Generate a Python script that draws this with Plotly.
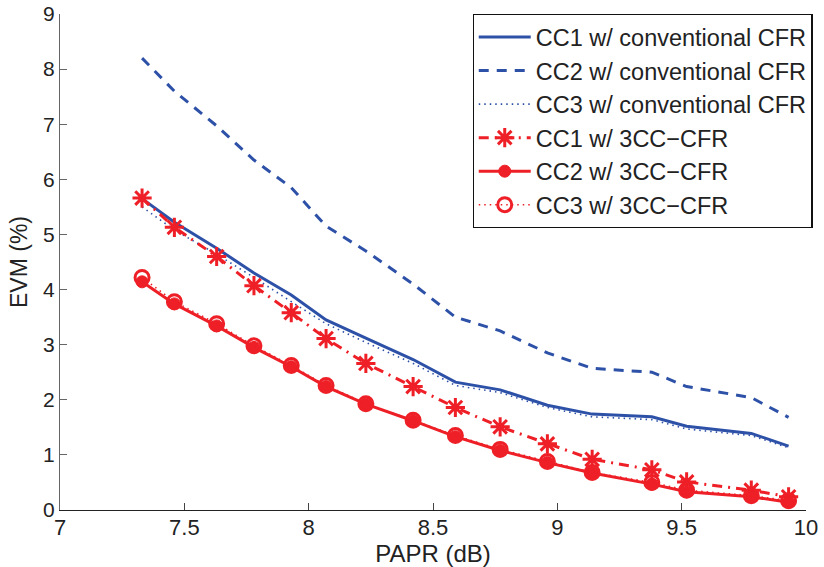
import plotly.graph_objects as go

papr = [7.33, 7.46, 7.63, 7.78, 7.93, 8.07, 8.23, 8.42, 8.59, 8.77, 8.96, 9.14, 9.38, 9.52, 9.78, 9.93]

cc1_conv = [5.65, 5.22, 4.75, 4.30, 3.90, 3.45, 3.12, 2.73, 2.32, 2.18, 1.90, 1.74, 1.69, 1.52, 1.39, 1.16]
cc2_conv = [8.20, 7.60, 6.97, 6.35, 5.85, 5.15, 4.70, 4.10, 3.50, 3.25, 2.85, 2.57, 2.50, 2.24, 2.04, 1.68]
cc3_conv = [5.50, 5.08, 4.64, 4.22, 3.78, 3.38, 3.04, 2.66, 2.26, 2.13, 1.86, 1.69, 1.64, 1.47, 1.35, 1.13]

cc1_3cc = [5.66, 5.13, 4.60, 4.07, 3.58, 3.11, 2.66, 2.24, 1.86, 1.51, 1.20, 0.92, 0.73, 0.51, 0.36, 0.24]
cc2_3cc = [4.14, 3.74, 3.34, 2.95, 2.60, 2.24, 1.92, 1.62, 1.33, 1.08, 0.86, 0.67, 0.47, 0.33, 0.24, 0.14]
cc3_3cc = [4.22, 3.78, 3.38, 2.98, 2.62, 2.26, 1.93, 1.63, 1.35, 1.10, 0.88, 0.68, 0.50, 0.36, 0.26, 0.17]

names = ["CC1 w/ conventional CFR", "CC2 w/ conventional CFR", "CC3 w/ conventional CFR",
         "CC1 w/ 3CC\u2212CFR", "CC2 w/ 3CC\u2212CFR", "CC3 w/ 3CC\u2212CFR"]

BLUE = "#2E51A8"
RED = "#EE1F26"

fig = go.Figure()
fig.add_trace(go.Scatter(x=papr, y=cc1_conv, name=names[0], mode="lines",
                         line=dict(color=BLUE, width=3)))
fig.add_trace(go.Scatter(x=papr, y=cc2_conv, name=names[1], mode="lines",
                         line=dict(color=BLUE, width=3, dash="10px,8px")))
fig.add_trace(go.Scatter(x=papr, y=cc3_conv, name=names[2], mode="lines",
                         line=dict(color=BLUE, width=1.6, dash="1.5px,4px")))
fig.add_trace(go.Scatter(x=papr, y=cc1_3cc, name=names[3], mode="lines+markers",
                         line=dict(color=RED, width=3, dash="10px,6px,2px,6px"),
                         marker=dict(symbol="asterisk-open", size=16, color=RED,
                                     line=dict(color=RED, width=3))))
fig.add_trace(go.Scatter(x=papr, y=cc2_3cc, name=names[4], mode="lines+markers",
                         line=dict(color=RED, width=3),
                         marker=dict(symbol="circle", size=12, color=RED,
                                     line=dict(color=RED, width=1))))
fig.add_trace(go.Scatter(x=papr, y=cc3_3cc, name=names[5], mode="lines+markers",
                         line=dict(color=RED, width=1.6, dash="1.5px,4px"),
                         marker=dict(symbol="circle-open", size=14, color=RED,
                                     line=dict(color=RED, width=3))))

fig.update_layout(
    width=824, height=567,
    margin=dict(l=60, r=18, t=14, b=57, autoexpand=False),
    paper_bgcolor="white", plot_bgcolor="white",
    font=dict(family="Liberation Sans, Arial, sans-serif", color="#222222"),
    showlegend=True,
    legend=dict(x=0.553, y=1.0, xanchor="left", yanchor="top",
                bgcolor="white", bordercolor="#111111", borderwidth=1.2,
                font=dict(size=23.5, family="Liberation Sans, Arial, sans-serif", color="#222222"),
                itemwidth=52, tracegroupgap=0),
    xaxis=dict(range=[7, 10], tickvals=[7, 7.5, 8, 8.5, 9, 9.5, 10],
               ticktext=["7", "7.5", "8", "8.5", "9", "9.5", "10"],
               showgrid=False, zeroline=False, showline=True, automargin=False,
               linecolor="#222222", linewidth=1.2, ticks="inside", ticklen=7,
               tickcolor="#444444", ticklabelstandoff=-3,
               tickfont=dict(size=22),
               title=dict(text="PAPR (dB)", standoff=6, font=dict(size=24))),
    yaxis=dict(range=[0, 9], tickvals=list(range(10)),
               showgrid=False, zeroline=False, showline=True, automargin=False,
               linecolor="#666666", linewidth=1.2, ticks="inside", ticklen=7,
               tickcolor="#666666",
               tickfont=dict(size=21),
               title=dict(text="EVM (%)", standoff=8, font=dict(size=23))),
)

fig.write_html("out.html")
